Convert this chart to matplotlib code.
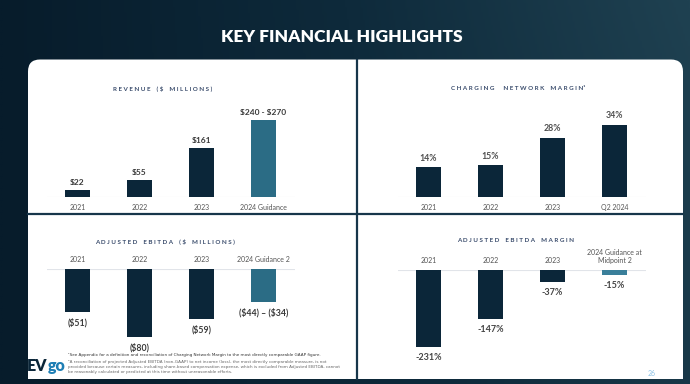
import numpy as np
import matplotlib
matplotlib.use("Agg")
import matplotlib.pyplot as plt
from matplotlib.patches import FancyBboxPatch, Rectangle
from matplotlib.colors import LinearSegmentedColormap

W, H = 690, 384

# data
revenue_cats = ["2021", "2022", "2023", "2024 Guidance"]
revenue = [22, 55, 161, 255]  # guidance bar drawn at midpoint of 240-270
revenue_labels = ["$22", "$55", "$161", "$240 - $270"]

margin_cats = ["2021", "2022", "2023", "Q2 2024"]
margin = [14, 15, 28, 34]
margin_labels = ["14%", "15%", "28%", "34%"]

ebitda_cats = ["2021", "2022", "2023", "2024 Guidance 2"]
ebitda = [-51, -80, -59, -39]  # guidance bar drawn at midpoint of -44..-34
ebitda_labels = ["($51)", "($80)", "($59)", "($44) \u2013 ($34)"]

ebitda_margin_cats = ["2021", "2022", "2023", "2024 Guidance at\nMidpoint 2"]
ebitda_margin = [-231, -147, -37, -15]
ebitda_margin_labels = ["-231%", "-147%", "-37%", "-15%"]

footnotes = [
    "\u00b9See Appendix for a definition and reconciliation of Charging Network Margin to the most directly comparable GAAP figure.",
    "\u00b2A reconciliation of projected Adjusted EBITDA (non-GAAP) to net income (loss), the most directly comparable measure, is not",
    "provided because certain measures, including share-based compensation expense, which is excluded from Adjusted EBITDA, cannot",
    "be reasonably calculated or predicted at this time without unreasonable efforts.",
]

NAVY = "#0b2639"
TEAL = "#2b6c85"
TITLE_C = "#3a4c6c"
LINE_C = "#17364a"

plt.rcParams["font.family"] = ["Lato", "DejaVu Sans"]
plt.rcParams["text.parse_math"] = False

fig = plt.figure(figsize=(W / 100, H / 100), dpi=100)

# background
bg = fig.add_axes([0, 0, 1, 1])
bg.set_xlim(0, W)
bg.set_ylim(H, 0)
bg.axis("off")
gx, gy = np.meshgrid(np.linspace(0, 1, 300), np.linspace(0, 1, 160))
grad = 0.8 * gx + 0.2 * (1 - gy) * gx
cmap = LinearSegmentedColormap.from_list("bg", ["#071c2b", "#0e2a3b", "#1f4151"])
bg.imshow(grad, extent=[0, W, H, 0], cmap=cmap, aspect="auto", zorder=0)

bg.text(342, 37, "KEY FINANCIAL HIGHLIGHTS", color="white", fontsize=12.5,
        fontweight="heavy", ha="center", va="center")

# white panel with rounded top corners
bg.add_patch(FancyBboxPatch((28, 59.5), 655, 319.5, boxstyle="round,pad=0,rounding_size=12",
                            fc="white", ec="none", zorder=1))
bg.add_patch(Rectangle((28, 100), 655, 279, fc="white", ec="none", zorder=1))
bg.plot([357, 357], [59.5, 379], color=LINE_C, lw=1.6, zorder=2)
bg.plot([28, 683], [214, 214], color=LINE_C, lw=1.6, zorder=2)


def spaced(s):
    return " ".join(s).replace("   ", "    ")


for txt, xx, yy in [(spaced("REVENUE ($ MILLIONS)"), 163, 89),
                    (spaced("CHARGING  NETWORK MARGIN") + "\u00b9", 518, 89),
                    (spaced("ADJUSTED EBITDA ($ MILLIONS)"), 165, 242),
                    (spaced("ADJUSTED EBITDA MARGIN"), 516, 241)]:
    bg.text(xx, yy, txt, color=TITLE_C, fontsize=4.5, fontweight="bold",
            ha="center", va="center", zorder=3)


def chart(left, right, base, top, bottom, scale, cats, vals, labels, colors,
          lab_color="#3a3a3a", lab_size=6):
    ax = fig.add_axes([left / W, 1 - bottom / H, (right - left) / W, (bottom - top) / H])
    ax.patch.set_alpha(0)
    ax.set_xlim(-0.5, 3.5)
    ax.set_ylim((base - bottom) / scale, (base - top) / scale)
    for s in ax.spines.values():
        s.set_visible(False)
    ax.set_yticks([])
    x = np.arange(len(vals))
    ax.bar(x, vals, width=0.4, color=colors, zorder=2)
    ax.axhline(0, color="#e1e4e9", lw=0.8, zorder=1)
    for i, (v, lab) in enumerate(zip(vals, labels)):
        if v >= 0:
            ax.annotate(lab, (i, v), xytext=(0, 3.2), textcoords="offset points",
                        ha="center", va="bottom", fontsize=lab_size, color=lab_color,
                        fontweight="bold")
        else:
            ax.annotate(lab, (i, v), xytext=(0, -4.2), textcoords="offset points",
                        ha="center", va="top", fontsize=lab_size, color=lab_color,
                        fontweight="bold")
    ax.set_xticks(x, cats)
    if vals[0] < 0:
        ax.xaxis.tick_top()
        ax.tick_params(length=0, pad=4, labelsize=5, labelcolor="#555555")
    else:
        ax.tick_params(length=0, pad=5, labelsize=5, labelcolor="#555555")
    return ax


chart(46.5, 294.5, 197, 100, 197, 0.302, revenue_cats, revenue, revenue_labels,
      [NAVY, NAVY, NAVY, TEAL])
chart(397.5, 645.5, 197, 100, 197, 2.12, margin_cats, margin, margin_labels,
      [NAVY] * 4, lab_color="#505050", lab_size=6.3)
chart(46.5, 294.5, 269, 269, 360, 0.85, ebitda_cats, ebitda, ebitda_labels,
      [NAVY, NAVY, NAVY, TEAL], lab_size=6.3)
chart(397.5, 645.5, 270, 270, 365, 0.333, ebitda_margin_cats, ebitda_margin,
      ebitda_margin_labels, [NAVY, NAVY, NAVY, "#3a7f9a"], lab_color="#444444", lab_size=6.5)

# footnotes, logo, page number
for k, (line, yy) in enumerate(zip(footnotes, [355, 362, 367, 372])):
    bg.text(68, yy, line, fontsize=3, family="DejaVu Sans",
            color="#333333" if k == 0 else "#666666", ha="left", va="center", zorder=3)

ev = bg.text(27, 366, "EV", fontsize=11.5, fontweight="heavy", color=NAVY, ha="left",
             va="center", zorder=3)
renderer = fig.canvas.get_renderer()
ev_right = ev.get_window_extent(renderer).x1
bg.text(ev_right + 0.5, 366, "go", fontsize=11.5, fontweight="heavy", color="#1f7fb5",
        ha="left", va="center", zorder=3)
bg.text(652, 373, "26", fontsize=5, color="#8ec3e6", ha="center", va="center", zorder=3)

fig.savefig("out.png", dpi=100)
